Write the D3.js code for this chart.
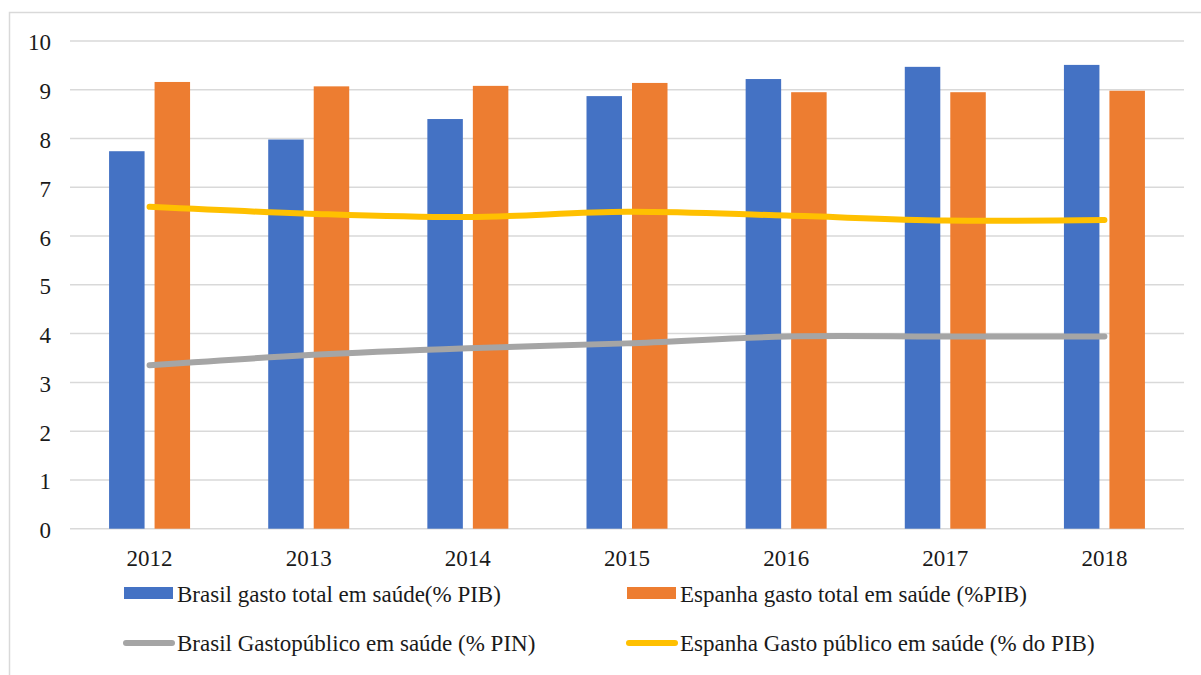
<!DOCTYPE html>
<html>
<head>
<meta charset="utf-8">
<script src="https://cdn.jsdelivr.net/npm/d3@7"></script>
<style>
  html, body { margin: 0; padding: 0; background: #fff; }
  svg { display: block; }
</style>
</head>
<body>
<svg id="chart" width="1201" height="675"></svg>
<script>
// Health spending as % of GDP, Brazil vs Spain
const years = ["2012", "2013", "2014", "2015", "2016", "2017", "2018"];
const brasilTotal = [7.74, 7.98, 8.40, 8.87, 9.22, 9.47, 9.51];
const espanhaTotal = [9.16, 9.07, 9.08, 9.14, 8.95, 8.95, 8.98];
const brasilPublico = [3.35, 3.56, 3.70, 3.80, 3.94, 3.94, 3.94];
const espanhaPublico = [6.60, 6.46, 6.39, 6.50, 6.42, 6.32, 6.33];
const yTicks = [0, 1, 2, 3, 4, 5, 6, 7, 8, 9, 10];

const legendLabels = [
  "Brasil gasto total em saúde(% PIB)",
  "Espanha gasto total em saúde (%PIB)",
  "Brasil Gastopúblico em saúde (% PIN)",
  "Espanha Gasto público em saúde (% do PIB)"
];

const colors = { blue: "#4472c4", orange: "#ed7d31", gray: "#a5a5a5", yellow: "#ffc000" };
const FONT = "'Liberation Serif', 'Times New Roman', serif";
const FONT_SIZE = "23px";
const TEXT_COLOR = "#1a1a1a";

const svg = d3.select("#chart");

// outer frame
svg.append("rect")
  .attr("x", 9.5).attr("y", 12.5)
  .attr("width", 1220).attr("height", 700)
  .attr("fill", "none").attr("stroke", "#d9d9d9").attr("stroke-width", 1.5);

const plotLeft = 70, plotRight = 1184, plotTop = 41, plotBottom = 528.7;

const x = d3.scaleBand().domain(years).range([plotLeft, plotRight]);
const y = d3.scaleLinear().domain([0, 10]).range([plotBottom, plotTop]);

// gridlines
svg.append("g").selectAll("line").data(yTicks).join("line")
  .attr("x1", plotLeft).attr("x2", plotRight)
  .attr("y1", d => y(d)).attr("y2", d => y(d))
  .attr("stroke", "#d9d9d9").attr("stroke-width", 1.5);

// y-axis labels
const yAxis = svg.append("g")
  .attr("transform", `translate(${plotLeft - 19},0)`)
  .call(d3.axisLeft(y).tickValues(yTicks).tickSize(0).tickPadding(0).tickFormat(d3.format("d")));
yAxis.select(".domain").remove();
yAxis.selectAll("text").attr("fill", TEXT_COLOR).attr("dy", "0.39em")
  .style("font-family", FONT).style("font-size", FONT_SIZE);

// x-axis labels
const xAxis = svg.append("g")
  .attr("transform", `translate(0,566)`)
  .call(d3.axisBottom(x).tickSize(0).tickPadding(0));
xAxis.select(".domain").remove();
xAxis.selectAll("text").attr("fill", TEXT_COLOR).attr("y", 0).attr("dy", 0)
  .style("font-family", FONT).style("font-size", FONT_SIZE);

// bars
const barW = 35.5, gap = 10;
const center = d => x(d) + x.bandwidth() / 2;

svg.append("g").selectAll("rect").data(years).join("rect")
  .attr("x", (d) => center(d) - gap / 2 - barW)
  .attr("y", (d, i) => y(brasilTotal[i]))
  .attr("width", barW)
  .attr("height", (d, i) => y(0) - y(brasilTotal[i]))
  .attr("fill", colors.blue);

svg.append("g").selectAll("rect").data(years).join("rect")
  .attr("x", (d) => center(d) + gap / 2)
  .attr("y", (d, i) => y(espanhaTotal[i]))
  .attr("width", barW)
  .attr("height", (d, i) => y(0) - y(espanhaTotal[i]))
  .attr("fill", colors.orange);

// smoothed lines
const line = d3.line()
  .x((d, i) => center(years[i]))
  .y(d => y(d))
  .curve(d3.curveCatmullRom.alpha(0.5));

svg.append("path").datum(brasilPublico)
  .attr("d", line).attr("fill", "none")
  .attr("stroke", colors.gray).attr("stroke-width", 6).attr("stroke-linecap", "round");

svg.append("path").datum(espanhaPublico)
  .attr("d", line).attr("fill", "none")
  .attr("stroke", colors.yellow).attr("stroke-width", 6).attr("stroke-linecap", "round");

// legend
const legend = svg.append("g");
const items = [
  { label: legendLabels[0], color: colors.blue, type: "rect", x: 124, y: 593, base: 602 },
  { label: legendLabels[1], color: colors.orange, type: "rect", x: 627, y: 593, base: 602 },
  { label: legendLabels[2], color: colors.gray, type: "line", x: 124, y: 643, base: 651 },
  { label: legendLabels[3], color: colors.yellow, type: "line", x: 627, y: 643, base: 651 }
];
items.forEach(it => {
  if (it.type === "rect") {
    legend.append("rect").attr("x", it.x).attr("y", it.y - 6)
      .attr("width", 49).attr("height", 12).attr("fill", it.color);
  } else {
    legend.append("line").attr("x1", it.x + 2).attr("x2", it.x + 48)
      .attr("y1", it.y).attr("y2", it.y)
      .attr("stroke", it.color).attr("stroke-width", 6).attr("stroke-linecap", "round");
  }
  legend.append("text").attr("x", it.x + 53).attr("y", it.base)
    .attr("fill", TEXT_COLOR)
    .style("font-family", FONT).style("font-size", FONT_SIZE)
    .text(it.label);
});
</script>
</body>
</html>
